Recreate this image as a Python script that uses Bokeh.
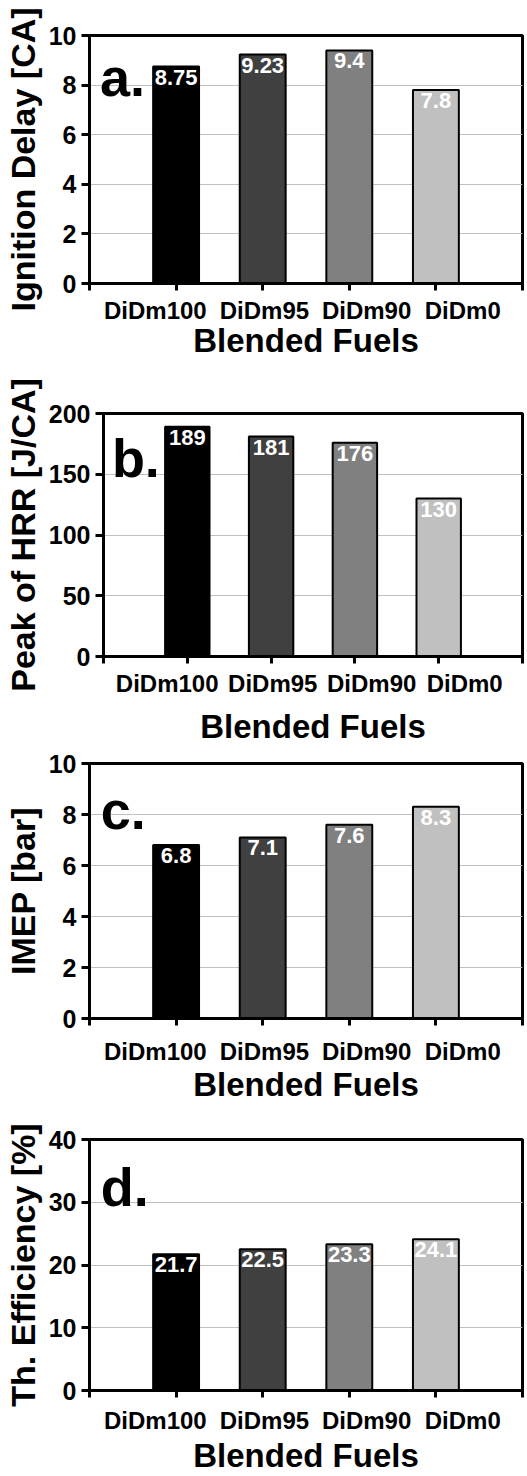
from bokeh.plotting import figure
from bokeh.models import FixedTicker, CustomJSTickFormatter, Range1d, Label
from bokeh.core.properties import value
from bokeh.embed import file_html
from bokeh.resources import INLINE

# ---- data ----
fuels = ["DiDm100", "DiDm95", "DiDm90", "DiDm0"]
ignition_delay = [8.75, 9.23, 9.4, 7.8]      # [CA]
peak_hrr = [189, 181, 176, 130]              # [J/CA]
imep = [6.8, 7.1, 7.6, 8.3]                  # [bar]
th_efficiency = [21.7, 22.5, 23.3, 24.1]     # [%]

# ---- style ----
bar_colors = ["#000000", "#404040", "#808080", "#c0c0c0"]
FONT = "Liberation Sans"
label_shift = [-0.24, 0.02, 0.2, 0.31]  # spread of category labels under the axis

panels = [
    # values, y label, ymax, step, letter, letter x, letter y,
    # height, border top, border bottom, border left, tick-label standoff, axis-label standoff
    (ignition_delay, "Ignition Delay [CA]", 10, 2, "a.", 0.12, 7.7, 361, 35, 78, 88, 6, -5),
    (peak_hrr, "Peak of HRR [J/CA]", 200, 50, "b.", 0.1, 150, 387, 52, 92, 100, 6, 8),
    (imep, "IMEP [bar]", 10, 2, "c.", 0.13, 7.56, 357, 15, 87, 87, 12, -2),
    (th_efficiency, "Th. Efficiency [%]", 40, 10, "d.", 0.13, 29.9, 371, 34, 86, 87, 9, 0),
]

figs = []
for (vals, ylab, ymax, step, letter, lx, ly, h, btop, bbot, bleft,
     tstand, lstand) in panels:
    p = figure(width=525, height=h, output_backend="svg", toolbar_location=None,
               x_range=Range1d(0, 5), y_range=Range1d(0, ymax),
               min_border_left=bleft, min_border_right=3,
               min_border_top=btop, min_border_bottom=bbot)
    p.outline_line_color = "black"
    p.outline_line_width = 3
    p.background_fill_color = "white"
    p.border_fill_color = "white"

    xs = [i + 1 for i in range(len(fuels))]
    p.vbar(x=xs, top=vals, width=0.53, bottom=0, fill_color=bar_colors,
           line_color="black", line_width=2)
    p.text(x=xs, y=vals, text=[str(v) for v in vals], text_color="white",
           text_font=value(FONT), text_align="center",
           text_baseline="top", y_offset=3, text_font_size="22px",
           text_font_style="bold")

    # x axis
    xa = p.xaxis[0]
    xa.ticker = FixedTicker(ticks=[x + s for x, s in zip(xs, label_shift)],
                            minor_ticks=[0, 1, 2, 3, 4, 5])
    xa.formatter = CustomJSTickFormatter(args=dict(names=fuels),
                                         code="return names[index];")
    xa.major_tick_out = 0
    xa.major_tick_in = 0
    xa.minor_tick_out = 7
    xa.minor_tick_in = 0
    xa.minor_tick_line_width = 3
    xa.minor_tick_line_color = "black"
    xa.axis_line_width = 3
    xa.axis_line_color = "black"
    xa.major_label_standoff = tstand
    xa.major_label_text_font = FONT
    xa.major_label_text_font_style = "bold"
    xa.major_label_text_font_size = "24px"
    xa.major_label_text_color = "black"
    xa.axis_label = "Blended Fuels"
    xa.axis_label_text_font = FONT
    xa.axis_label_text_font_style = "bold"
    xa.axis_label_text_font_size = "33px"
    xa.axis_label_text_color = "black"
    xa.axis_label_standoff = lstand

    # y axis
    ya = p.yaxis[0]
    ya.ticker = FixedTicker(ticks=list(range(0, ymax + 1, step)))
    ya.major_tick_out = 8
    ya.major_tick_in = 0
    ya.major_tick_line_width = 3
    ya.major_tick_line_color = "black"
    ya.minor_tick_out = 0
    ya.minor_tick_in = 0
    ya.axis_line_width = 3
    ya.axis_line_color = "black"
    ya.major_label_standoff = 5
    ya.major_label_text_font = FONT
    ya.major_label_text_font_style = "bold"
    ya.major_label_text_font_size = "25px"
    ya.major_label_text_color = "black"
    ya.axis_label = ylab
    ya.axis_label_text_font = FONT
    ya.axis_label_text_font_style = "bold"
    ya.axis_label_text_font_size = "34px"
    ya.axis_label_text_color = "black"
    ya.axis_label_standoff = 4

    p.xgrid.grid_line_color = None
    p.ygrid.grid_line_color = "#c0c0c0"
    p.ygrid.grid_line_width = 1

    p.add_layout(Label(x=lx, y=ly, y_offset=16, text=letter, text_font=FONT,
                       text_font_style="bold", text_font_size="54px",
                       text_color="black", text_baseline="alphabetic"))
    figs.append(p)

# separate roots, stacked vertically (independent frame positions)
open("out.html", "w").write(file_html(figs, INLINE))
